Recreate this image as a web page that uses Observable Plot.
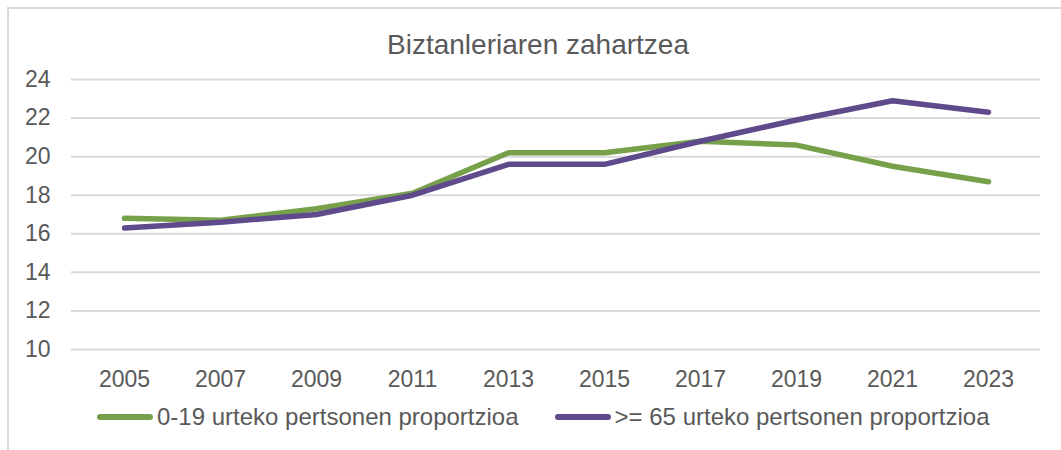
<!DOCTYPE html>
<html>
<head>
<meta charset="utf-8">
<script src="https://cdn.jsdelivr.net/npm/d3@7"></script>
<script src="https://cdn.jsdelivr.net/npm/@observablehq/plot@0.6"></script>
<style>
  html, body { margin: 0; padding: 0; background: #fff; }
  body { width: 1061px; height: 450px; position: relative; overflow: hidden; font-family: "Liberation Sans", Arial, sans-serif; color: #595959; }
  #frame { position: absolute; left: 7px; top: 7px; width: 1100px; height: 500px; border-top: 2px solid #d9d9d9; border-left: 2px solid #d9d9d9; box-sizing: border-box; }
  #title { position: absolute; top: 31px; left: 538px; transform: translateX(-50%); font-size: 28px; line-height: 28px; white-space: nowrap; color: #595959; }
  #chart { position: absolute; left: 0; top: 60px; }
  #legend { position: absolute; top: 405px; left: 97px; display: flex; align-items: center; font-size: 24px; line-height: 24px; white-space: nowrap; color: #595959; }
  .sw { display: inline-block; width: 56px; height: 6px; border-radius: 3px; margin-right: 4px; }
  .item { display: flex; align-items: center; }
</style>
</head>
<body>
<div id="frame"></div>
<div id="title">Biztanleriaren zahartzea</div>
<div id="chart"></div>
<div id="legend"></div>
<script>
const years = ["2005","2007","2009","2011","2013","2015","2017","2019","2021","2023"];
const young = [16.8, 16.7, 17.3, 18.1, 20.2, 20.2, 20.8, 20.6, 19.5, 18.7];
const old   = [16.3, 16.6, 17.0, 18.0, 19.6, 19.6, 20.8, 21.9, 22.9, 22.3];
const seriesNames = ["0-19 urteko pertsonen proportzioa", ">= 65 urteko pertsonen proportzioa"];
const seriesColors = ["#77A04B", "#5F4A8C"];
const yTicks = [10, 12, 14, 16, 18, 20, 22, 24];

const rows = [];
years.forEach((y, i) => rows.push({year: y, value: young[i], series: seriesNames[0]}));
years.forEach((y, i) => rows.push({year: y, value: old[i], series: seriesNames[1]}));

const plot = Plot.plot({
  width: 1061,
  height: 340,
  marginTop: 19,
  marginBottom: 51,
  marginLeft: 71,
  marginRight: 21,
  style: { fontFamily: '"Liberation Sans", Arial, sans-serif', fontSize: "23px", color: "#595959", background: "transparent" },
  x: { type: "point", domain: years, padding: 0.5, label: null },
  y: { domain: [10, 24], label: null },
  color: { domain: seriesNames, range: seriesColors },
  marks: [
    Plot.gridY(yTicks, { stroke: "#d9d9d9", strokeOpacity: 1, strokeWidth: 2 }),
    Plot.axisY(yTicks, { tickSize: 0, tickPadding: 21, fontSize: 23, fill: "#595959", label: null }),
    Plot.axisX({ tickSize: 0, tickPadding: 21, fontSize: 23, fill: "#595959", label: null }),
    Plot.line(rows, { x: "year", y: "value", z: "series", stroke: "series", strokeWidth: 5.5, strokeLinecap: "round", strokeLinejoin: "round" })
  ]
});
document.getElementById("chart").appendChild(plot);

const legend = document.getElementById("legend");
seriesNames.forEach((name, i) => {
  const item = document.createElement("div");
  item.className = "item";
  if (i > 0) item.style.marginLeft = "36px";
  const sw = document.createElement("span");
  sw.className = "sw";
  sw.style.background = seriesColors[i];
  const t = document.createElement("span");
  t.textContent = name;
  item.appendChild(sw);
  item.appendChild(t);
  legend.appendChild(item);
});
</script>
</body>
</html>
